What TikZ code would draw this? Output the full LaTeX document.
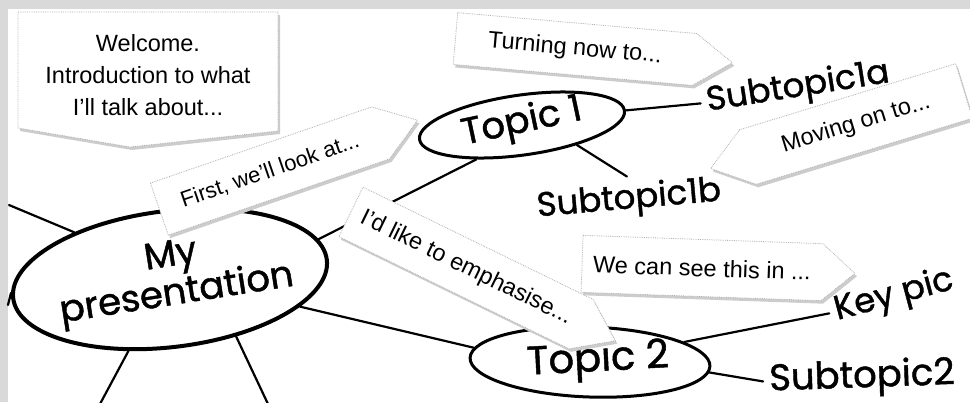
\documentclass[tikz,border=0pt]{standalone}
\usepackage{fontspec}
\setmainfont{Liberation Sans}
\newfontfamily\handfont{Poppins}[FakeBold=1.2]
\usetikzlibrary{shapes.geometric,shadows}

\tikzset{
  bubble/.style={draw, ellipse, line width=3pt, inner sep=0pt},
  hand/.style={font=\handfont\fontsize{34}{36}\selectfont, inner sep=6pt},
  branch/.style={line width=2.2pt, line cap=round},
  callout/.style={draw=gray!60, densely dotted, line width=0.8pt, fill=white,
    drop shadow={shadow xshift=2pt, shadow yshift=-3pt, fill=gray!40, draw=none, opacity=1}},
  note/.style={font=\fontsize{23.5}{32}\selectfont, inner sep=0pt},
}

\begin{document}
\begin{tikzpicture}[x=1pt, y=-1pt]
\useasboundingbox (0,0) rectangle (970,402);
\fill[gray!30] (0,0) rectangle (970,402);
\fill[white] (8,9) rectangle (970,402);

% the map itself
\node[bubble, line width=4pt, minimum width=316, minimum height=136, rotate=7] (pres) at (170,279) {};
\node[hand, rotate=9, align=center, font=\handfont\fontsize{37}{33}\selectfont] (prestxt) at (174,277) {My\\presentation};

\node[bubble, minimum width=207, minimum height=60, rotate=8] (topic1) at (522,125) {};
\node[hand, rotate=12, font=\handfont\fontsize{37}{40}\selectfont] (topic1txt) at (522,123) {Topic 1};
\node[bubble, minimum width=240, minimum height=70, rotate=-2] (topic2) at (590,362) {};
\node[hand, rotate=3, font=\handfont\fontsize{40}{42}\selectfont] (topic2txt) at (598,361) {Topic 2};

\node[hand, rotate=9] (sub1a) at (798,88) {Subtopic1a};
\node[hand, rotate=5] (sub1b) at (629,200) {Subtopic1b};
\node[hand, rotate=15] (keypic) at (894,296) {Key pic};
\node[hand, rotate=2, font=\handfont\fontsize{37}{40}\selectfont] (sub2) at (862,378) {Subtopic2};

% loose ends running off the page
\coordinate (offa) at (9,205);
\coordinate (offb) at (8,305);
\coordinate (offc) at (100,404);
\coordinate (offd) at (268,404);

\draw[branch] (pres.8) -- (topic1.209);
\draw[branch] (pres.-19) -- (topic2.175);
\draw[branch] (pres.147) -- (offa);
\draw[branch] (pres.178) -- (offb);
\draw[branch] (pres.233) -- (offc);
\draw[branch] (pres.-48) -- (offd);
\draw[branch] (topic1.0) -- (sub1a.west);
\draw[branch] (topic1.-28) -- (sub1b.north);
\draw[branch] (topic2.14) -- (keypic.west);
\draw[branch] (topic2.-3) -- (sub2.west);

% speech callouts on top
\filldraw[callout] (18,12) -- (278,12) -- (278,131) -- (130,147) -- (18,128) -- cycle;
\node[note, align=center] (welcome) at (148,75) {Welcome.\\Introduction to what\\I'll talk about...};

\begin{scope}[shift={(575,49)}, rotate=-5, transform shape]
  \filldraw[callout] (-120,-26) -- (120,-26) -- (158,0) -- (120,26) -- (-120,26) -- cycle;
  \node[note] (turning) at (0,0) {Turning now to...};
\end{scope}

\begin{scope}[shift={(270,171)}, rotate=19, transform shape]
  \filldraw[callout] (-117,-27.5) -- (117,-27.5) -- (156,0) -- (117,27.5) -- (-117,27.5) -- cycle;
  \node[note, font=\fontsize{22}{26}\selectfont] (first) at (0,0) {First, we'll look at...};
\end{scope}

\begin{scope}[shift={(856,124)}, rotate=17, transform shape]
  \filldraw[callout] (-113,-28.5) -- (113,-28.5) -- (113,28.5) -- (-113,28.5) -- (-152,0) -- cycle;
  \node[note] (moving) at (0,0) {Moving on to...};
\end{scope}

\begin{scope}[shift={(466,268)}, rotate=-26, transform shape]
  \filldraw[callout] (-128,-27.5) -- (128,-27.5) -- (166,0) -- (128,27.5) -- (-128,27.5) -- cycle;
  \node[note] (emph) at (0,0) {I'd like to emphasise...};
\end{scope}

\begin{scope}[shift={(702,268)}, rotate=-2, transform shape]
  \filldraw[callout] (-120,-28.5) -- (120,-28.5) -- (153,0) -- (120,28.5) -- (-120,28.5) -- cycle;
  \node[note] (seeit) at (0,0) {We can see this in ...};
\end{scope}
\end{tikzpicture}
\end{document}
